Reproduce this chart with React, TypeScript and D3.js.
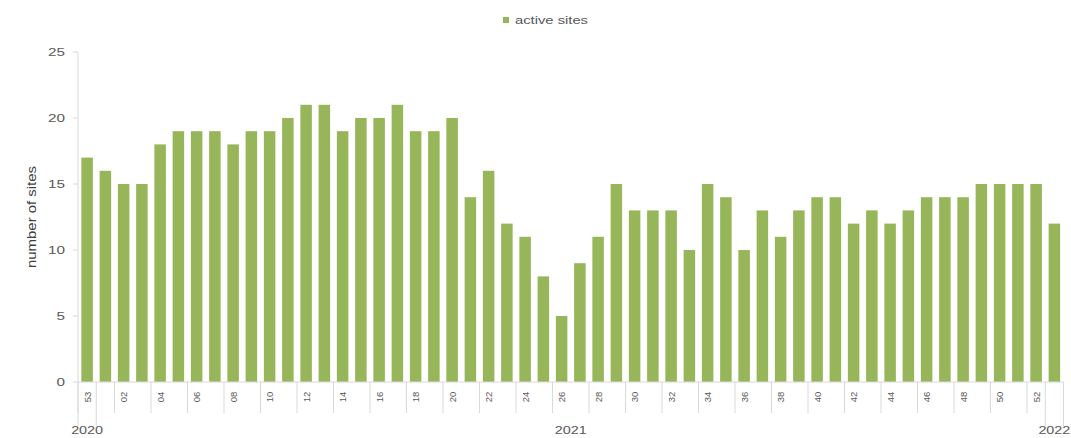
import React from "react";
import * as d3 from "d3";

const weeks: string[] = [
  "53",
  "01","02","03","04","05","06","07","08","09","10",
  "11","12","13","14","15","16","17","18","19","20",
  "21","22","23","24","25","26","27","28","29","30",
  "31","32","33","34","35","36","37","38","39","40",
  "41","42","43","44","45","46","47","48","49","50",
  "51","52",
  "01",
];
const years: string[] = [
  "2020",
  ...Array(52).fill("2021"),
  "2022",
];
const activeSites: number[] = [
  17, 16, 15, 15, 18, 19, 19, 19, 18, 19, 19, 20, 21, 21, 19, 20, 20, 21, 19, 19,
  20, 14, 16, 12, 11, 8, 5, 9, 11, 15, 13, 13, 13, 10, 15, 14, 10, 13, 11, 13,
  14, 14, 12, 13, 12, 13, 14, 14, 14, 15, 15, 15, 15, 12,
];
const yTicks: number[] = [0, 5, 10, 15, 20, 25];
const yearGroups: string[] = ["2020", "2021", "2022"];

const W = 1071;
const H = 438;
const M = { left: 78, right: 7.5, top: 52, bottom: 56 };
const FONT = "'Liberation Sans', Arial, sans-serif";
const BAR = "#97b65a";
const TXT = "#595959";

export default function App() {
  const idx = activeSites.map((_, i) => i);
  const x = d3
    .scaleBand<number>()
    .domain(idx)
    .range([M.left, W - M.right])
    .paddingInner(0.37)
    .paddingOuter(0.185);
  const step = x.step();
  const x0 = M.left;
  const y = d3.scaleLinear().domain([0, 25]).range([H - M.bottom, M.top]);
  const baseY = y(0);

  const catTicks: number[] = [];
  for (let i = 0; i <= activeSites.length; i += 2) catTicks.push(i);

  const groups = yearGroups.map((yr) => {
    const first = years.indexOf(yr);
    const last = years.lastIndexOf(yr);
    return { yr, first, last };
  });
  const groupBounds = Array.from(
    new Set(groups.flatMap((g) => [g.first, g.last + 1]))
  );

  return (
    <svg
      width={W}
      height={H}
      style={{ position: "absolute", left: 0, top: 0, background: "#fff" }}
      fontFamily={FONT}
    >
      {/* legend */}
      <g>
        <rect x={503} y={17} width={6} height={6} fill={BAR} />
        <text
          x={515}
          y={24}
          fontSize={11}
          fill={TXT}
          textLength={73}
          lengthAdjust="spacingAndGlyphs"
        >
          active sites
        </text>
      </g>

      {/* y axis */}
      <line x1={x0} x2={x0} y1={y(25)} y2={baseY} stroke="#d9d9d9" />
      {yTicks.map((t) => (
        <g key={t}>
          <line x1={x0 - 5} x2={x0} y1={y(t)} y2={y(t)} stroke="#d9d9d9" />
          <text
            x={x0 - 13}
            y={y(t)}
            dy="0.35em"
            textAnchor="end"
            fontSize={11}
            fill={TXT}
            textLength={String(t).length * 8.5}
            lengthAdjust="spacingAndGlyphs"
          >
            {t}
          </text>
        </g>
      ))}
      <text
        transform={`translate(36,${(y(25) + baseY) / 2}) rotate(-90)`}
        textAnchor="middle"
        fontSize={12}
        fill="#404040"
        textLength={102}
        lengthAdjust="spacingAndGlyphs"
      >
        number of sites
      </text>

      {/* bars */}
      {activeSites.map((v, i) => (
        <rect
          key={i}
          x={x(i)}
          y={y(v)}
          width={x.bandwidth()}
          height={baseY - y(v)}
          fill={BAR}
        />
      ))}

      {/* x axis */}
      <line x1={x0} x2={W - M.right} y1={baseY} y2={baseY} stroke="#d9d9d9" />
      {catTicks.map((i) => (
        <line
          key={"t" + i}
          x1={x0 + i * step}
          x2={x0 + i * step}
          y1={baseY}
          y2={baseY + 31}
          stroke="#d9d9d9"
        />
      ))}
      {groupBounds.map((i) => (
        <line
          key={"g" + i}
          x1={x0 + i * step}
          x2={x0 + i * step}
          y1={baseY}
          y2={baseY + 44}
          stroke="#d9d9d9"
        />
      ))}
      {weeks.map((w, i) =>
        i % 2 === 0 ? (
          <text
            key={"w" + i}
            transform={`translate(${(x(i) as number) + x.bandwidth() / 2 + 3.5},${baseY + 15}) rotate(-90)`}
            textAnchor="middle"
            fontSize={9.5}
            fill={TXT}
          >
            {w}
          </text>
        ) : null
      )}
      {groups.map((g) => {
        const cx =
          ((x(g.first) as number) + (x(g.last) as number) + x.bandwidth()) / 2;
        return (
          <text
            key={g.yr}
            x={cx}
            y={baseY + 52}
            textAnchor="middle"
            fontSize={10}
            fill={TXT}
            textLength={32}
            lengthAdjust="spacingAndGlyphs"
          >
            {g.yr}
          </text>
        );
      })}
    </svg>
  );
}
